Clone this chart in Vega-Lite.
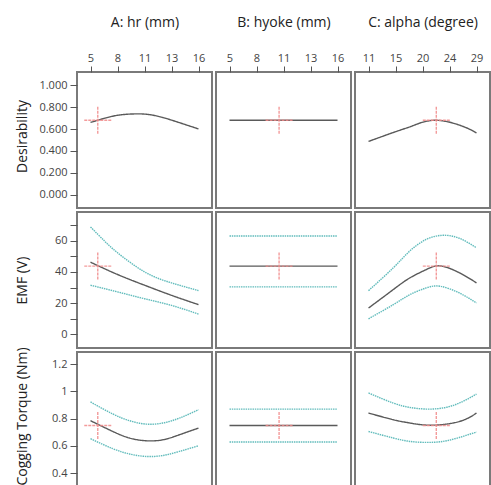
{
  "$schema": "https://vega.github.io/schema/vega-lite/v6.json",
  "background": "white",
  "padding": {"left": 13, "top": 14, "right": 0, "bottom": 0},
  "datasets": {
    "curves": [
      {"r":"D","c":"A","s":"m","x":5,"y":0.66},{"r":"D","c":"A","s":"m","x":7.27,"y":0.717},{"r":"D","c":"A","s":"m","x":8.97,"y":0.736},{"r":"D","c":"A","s":"m","x":10.67,"y":0.735},{"r":"D","c":"A","s":"m","x":12.37,"y":0.705},{"r":"D","c":"A","s":"m","x":14.06,"y":0.658},{"r":"D","c":"A","s":"m","x":16,"y":0.601},
      {"r":"D","c":"B","s":"m","x":5,"y":0.68},{"r":"D","c":"B","s":"m","x":16,"y":0.68},
      {"r":"D","c":"C","s":"m","x":11,"y":0.487},{"r":"D","c":"C","s":"m","x":15.69,"y":0.579},{"r":"D","c":"C","s":"m","x":18.43,"y":0.631},{"r":"D","c":"C","s":"m","x":22.18,"y":0.68},{"r":"D","c":"C","s":"m","x":26.69,"y":0.625},{"r":"D","c":"C","s":"m","x":29,"y":0.564},

      {"r":"E","c":"A","s":"u","x":5,"y":69.0},{"r":"E","c":"A","s":"u","x":6.43,"y":59.9},{"r":"E","c":"A","s":"u","x":7.75,"y":52.4},{"r":"E","c":"A","s":"u","x":10.5,"y":40.1},{"r":"E","c":"A","s":"u","x":13.25,"y":33.0},{"r":"E","c":"A","s":"u","x":16,"y":28.0},
      {"r":"E","c":"A","s":"m","x":5,"y":46.3},{"r":"E","c":"A","s":"m","x":7.75,"y":38.4},{"r":"E","c":"A","s":"m","x":10.5,"y":31.5},{"r":"E","c":"A","s":"m","x":13.25,"y":25.0},{"r":"E","c":"A","s":"m","x":16,"y":19.0},
      {"r":"E","c":"A","s":"l","x":5,"y":31.5},{"r":"E","c":"A","s":"l","x":7.75,"y":27.2},{"r":"E","c":"A","s":"l","x":10.5,"y":22.8},{"r":"E","c":"A","s":"l","x":13.25,"y":18.5},{"r":"E","c":"A","s":"l","x":16,"y":12.9},
      {"r":"E","c":"B","s":"u","x":5,"y":63.2},{"r":"E","c":"B","s":"u","x":16,"y":63.2},
      {"r":"E","c":"B","s":"m","x":5,"y":43.8},{"r":"E","c":"B","s":"m","x":16,"y":43.8},
      {"r":"E","c":"B","s":"l","x":5,"y":30.4},{"r":"E","c":"B","s":"l","x":16,"y":30.4},
      {"r":"E","c":"C","s":"u","x":11,"y":28.0},{"r":"E","c":"C","s":"u","x":15.13,"y":42.7},{"r":"E","c":"C","s":"u","x":17.88,"y":53.5},{"r":"E","c":"C","s":"u","x":20.64,"y":61.0},{"r":"E","c":"C","s":"u","x":23.39,"y":63.6},{"r":"E","c":"C","s":"u","x":26.14,"y":61.7},{"r":"E","c":"C","s":"u","x":29,"y":55.6},
      {"r":"E","c":"C","s":"m","x":11,"y":16.8},{"r":"E","c":"C","s":"m","x":15.13,"y":28.7},{"r":"E","c":"C","s":"m","x":17.89,"y":36.2},{"r":"E","c":"C","s":"m","x":20.64,"y":41.6},{"r":"E","c":"C","s":"m","x":23.0,"y":43.9},{"r":"E","c":"C","s":"m","x":26.14,"y":39.5},{"r":"E","c":"C","s":"m","x":29,"y":33.0},
      {"r":"E","c":"C","s":"l","x":11,"y":9.9},{"r":"E","c":"C","s":"l","x":15.13,"y":19.0},{"r":"E","c":"C","s":"l","x":17.89,"y":25.4},{"r":"E","c":"C","s":"l","x":20.64,"y":29.8},{"r":"E","c":"C","s":"l","x":23.0,"y":30.8},{"r":"E","c":"C","s":"l","x":26.14,"y":26.5},{"r":"E","c":"C","s":"l","x":29,"y":20.1},

      {"r":"T","c":"A","s":"u","x":5,"y":0.922},{"r":"T","c":"A","s":"u","x":7.27,"y":0.834},{"r":"T","c":"A","s":"u","x":8.97,"y":0.785},{"r":"T","c":"A","s":"u","x":10.67,"y":0.76},{"r":"T","c":"A","s":"u","x":12.37,"y":0.768},{"r":"T","c":"A","s":"u","x":14.06,"y":0.804},{"r":"T","c":"A","s":"u","x":16,"y":0.865},
      {"r":"T","c":"A","s":"m","x":5,"y":0.785},{"r":"T","c":"A","s":"m","x":7.27,"y":0.706},{"r":"T","c":"A","s":"m","x":8.97,"y":0.658},{"r":"T","c":"A","s":"m","x":10.67,"y":0.638},{"r":"T","c":"A","s":"m","x":12.37,"y":0.645},{"r":"T","c":"A","s":"m","x":14.06,"y":0.682},{"r":"T","c":"A","s":"m","x":16,"y":0.731},
      {"r":"T","c":"A","s":"l","x":5,"y":0.653},{"r":"T","c":"A","s":"l","x":7.27,"y":0.58},{"r":"T","c":"A","s":"l","x":8.97,"y":0.541},{"r":"T","c":"A","s":"l","x":10.67,"y":0.523},{"r":"T","c":"A","s":"l","x":12.37,"y":0.53},{"r":"T","c":"A","s":"l","x":14.06,"y":0.56},{"r":"T","c":"A","s":"l","x":16,"y":0.601},
      {"r":"T","c":"B","s":"u","x":5,"y":0.87},{"r":"T","c":"B","s":"u","x":16,"y":0.87},
      {"r":"T","c":"B","s":"m","x":5,"y":0.75},{"r":"T","c":"B","s":"m","x":16,"y":0.75},
      {"r":"T","c":"B","s":"l","x":5,"y":0.629},{"r":"T","c":"B","s":"l","x":16,"y":0.629},
      {"r":"T","c":"C","s":"u","x":11,"y":0.988},{"r":"T","c":"C","s":"u","x":15.13,"y":0.914},{"r":"T","c":"C","s":"u","x":17.89,"y":0.882},{"r":"T","c":"C","s":"u","x":20.64,"y":0.87},{"r":"T","c":"C","s":"u","x":23.39,"y":0.878},{"r":"T","c":"C","s":"u","x":26.14,"y":0.914},{"r":"T","c":"C","s":"u","x":29,"y":0.98},
      {"r":"T","c":"C","s":"m","x":11,"y":0.841},{"r":"T","c":"C","s":"m","x":15.13,"y":0.792},{"r":"T","c":"C","s":"m","x":17.89,"y":0.768},{"r":"T","c":"C","s":"m","x":21.5,"y":0.752},{"r":"T","c":"C","s":"m","x":26.14,"y":0.779},{"r":"T","c":"C","s":"m","x":29,"y":0.841},
      {"r":"T","c":"C","s":"l","x":11,"y":0.706},{"r":"T","c":"C","s":"l","x":15.13,"y":0.658},{"r":"T","c":"C","s":"l","x":17.89,"y":0.633},{"r":"T","c":"C","s":"l","x":20.64,"y":0.626},{"r":"T","c":"C","s":"l","x":23.39,"y":0.633},{"r":"T","c":"C","s":"l","x":26.14,"y":0.662},{"r":"T","c":"C","s":"l","x":29,"y":0.702}
    ],
    "opt": [
      {"r":"D","c":"A","x":5.74,"y":0.68},{"r":"D","c":"B","x":10.05,"y":0.68},{"r":"D","c":"C","x":22.3,"y":0.68},
      {"r":"E","c":"A","x":5.74,"y":43.8},{"r":"E","c":"B","x":10.05,"y":43.8},{"r":"E","c":"C","x":22.3,"y":43.8},
      {"r":"T","c":"A","x":5.74,"y":0.75},{"r":"T","c":"B","x":10.05,"y":0.75},{"r":"T","c":"C","x":22.3,"y":0.75}
    ]
  },
  "columns": 3,
  "spacing": 4,
  "bounds": "flush",
  "concat": [
    {"width":135,"height":136,
     "encoding":{
       "x":{"field":"x","type":"quantitative","scale":{"domain":[3.625,17.375],"nice":false,"zero":false},
            "axis":{"orient":"top","title":"A: hr (mm)","values":[5,7.75,10.5,13.25,16],"labelExpr":"datum.value==7.75?'8':datum.value==10.5?'11':datum.value==13.25?'13':format(datum.value,'d')","titlePadding":23,"tickSize":6,"labelPadding":3}},
       "y":{"field":"y","type":"quantitative","scale":{"domain":[-0.12,1.12],"nice":false,"zero":false},
            "axis":{"title":"Desirability","titleY":64,"values":[0,0.2,0.4,0.6,0.8,1],"format":".3f","minExtent":40,"maxExtent":40,"titlePadding":8,"tickSize":7,"labelPadding":3}}},
     "layer":[
       {"data":{"name":"curves"},"transform":[{"filter":"datum.r=='D' && datum.c=='A'"}],"mark":{"type":"line","strokeWidth":1.4,"interpolate":"natural"},
        "encoding":{"color":{"field":"s","type":"nominal","scale":{"domain":["m","u","l"],"range":["#5a5a5a","#62bcbc","#62bcbc"]},"legend":null},
                    "strokeDash":{"field":"s","type":"nominal","scale":{"domain":["m","u","l"],"range":[[1,0],[1.5,0.8],[1.5,0.8]]},"legend":null}}},
       {"data":{"name":"opt"},"transform":[{"filter":"datum.r=='D' && datum.c=='A'"}],"mark":{"type":"point","shape":"M0,-1V1M-1,0H1","size":729,"filled":false,"color":"#f28a8a","strokeWidth":1.4,"strokeDash":[3,1],"opacity":0.85},"encoding":{}}
     ]},
    {"width":135,"height":136,
     "encoding":{
       "x":{"field":"x","type":"quantitative","scale":{"domain":[3.625,17.375],"nice":false,"zero":false},
            "axis":{"orient":"top","title":"B: hyoke (mm)","values":[5,7.75,10.5,13.25,16],"labelExpr":"datum.value==7.75?'8':datum.value==10.5?'11':datum.value==13.25?'13':format(datum.value,'d')","titlePadding":23,"tickSize":6,"labelPadding":3}},
       "y":{"field":"y","type":"quantitative","scale":{"domain":[-0.12,1.12],"nice":false,"zero":false},"axis":null}},
     "layer":[
       {"data":{"name":"curves"},"transform":[{"filter":"datum.r=='D' && datum.c=='B'"}],"mark":{"type":"line","strokeWidth":1.4,"interpolate":"natural"},
        "encoding":{"color":{"field":"s","type":"nominal","scale":{"domain":["m","u","l"],"range":["#5a5a5a","#62bcbc","#62bcbc"]},"legend":null},
                    "strokeDash":{"field":"s","type":"nominal","scale":{"domain":["m","u","l"],"range":[[1,0],[1.5,0.8],[1.5,0.8]]},"legend":null}}},
       {"data":{"name":"opt"},"transform":[{"filter":"datum.r=='D' && datum.c=='B'"}],"mark":{"type":"point","shape":"M0,-1V1M-1,0H1","size":729,"filled":false,"color":"#f28a8a","strokeWidth":1.4,"strokeDash":[3,1],"opacity":0.85},"encoding":{}}
     ]},
    {"width":135,"height":136,
     "encoding":{
       "x":{"field":"x","type":"quantitative","scale":{"domain":[8.75,31.25],"nice":false,"zero":false},
            "axis":{"orient":"top","title":"C: alpha (degree)","values":[11,15.5,20,24.5,29],"labelExpr":"datum.value==15.5?'15':datum.value==24.5?'24':format(datum.value,'d')","titlePadding":23,"tickSize":6,"labelPadding":3}},
       "y":{"field":"y","type":"quantitative","scale":{"domain":[-0.12,1.12],"nice":false,"zero":false},"axis":null}},
     "layer":[
       {"data":{"name":"curves"},"transform":[{"filter":"datum.r=='D' && datum.c=='C'"}],"mark":{"type":"line","strokeWidth":1.4,"interpolate":"natural"},
        "encoding":{"color":{"field":"s","type":"nominal","scale":{"domain":["m","u","l"],"range":["#5a5a5a","#62bcbc","#62bcbc"]},"legend":null},
                    "strokeDash":{"field":"s","type":"nominal","scale":{"domain":["m","u","l"],"range":[[1,0],[1.5,0.8],[1.5,0.8]]},"legend":null}}},
       {"data":{"name":"opt"},"transform":[{"filter":"datum.r=='D' && datum.c=='C'"}],"mark":{"type":"point","shape":"M0,-1V1M-1,0H1","size":729,"filled":false,"color":"#f28a8a","strokeWidth":1.4,"strokeDash":[3,1],"opacity":0.85},"encoding":{}}
     ]},

    {"width":135,"height":136,
     "encoding":{
       "x":{"field":"x","type":"quantitative","scale":{"domain":[3.625,17.375],"nice":false,"zero":false},"axis":null},
       "y":{"field":"y","type":"quantitative","scale":{"domain":[-8.9,78.6],"nice":false,"zero":false},
            "axis":{"title":"EMF (V)","values":[0,10,20,30,40,50,60,70],"format":"d","labelExpr":"datum.value % 20 == 0 ? datum.label : ''","minExtent":40,"maxExtent":40,"titlePadding":8,"tickSize":7,"labelPadding":3}}},
     "layer":[
       {"data":{"name":"curves"},"transform":[{"filter":"datum.r=='E' && datum.c=='A'"}],"mark":{"type":"line","strokeWidth":1.4,"interpolate":"natural"},
        "encoding":{"color":{"field":"s","type":"nominal","scale":{"domain":["m","u","l"],"range":["#5a5a5a","#62bcbc","#62bcbc"]},"legend":null},
                    "strokeDash":{"field":"s","type":"nominal","scale":{"domain":["m","u","l"],"range":[[1,0],[1.5,0.8],[1.5,0.8]]},"legend":null}}},
       {"data":{"name":"opt"},"transform":[{"filter":"datum.r=='E' && datum.c=='A'"}],"mark":{"type":"point","shape":"M0,-1V1M-1,0H1","size":729,"filled":false,"color":"#f28a8a","strokeWidth":1.4,"strokeDash":[3,1],"opacity":0.85},"encoding":{}}
     ]},
    {"width":135,"height":136,
     "encoding":{
       "x":{"field":"x","type":"quantitative","scale":{"domain":[3.625,17.375],"nice":false,"zero":false},"axis":null},
       "y":{"field":"y","type":"quantitative","scale":{"domain":[-8.9,78.6],"nice":false,"zero":false},"axis":null}},
     "layer":[
       {"data":{"name":"curves"},"transform":[{"filter":"datum.r=='E' && datum.c=='B'"}],"mark":{"type":"line","strokeWidth":1.4,"interpolate":"natural"},
        "encoding":{"color":{"field":"s","type":"nominal","scale":{"domain":["m","u","l"],"range":["#5a5a5a","#62bcbc","#62bcbc"]},"legend":null},
                    "strokeDash":{"field":"s","type":"nominal","scale":{"domain":["m","u","l"],"range":[[1,0],[1.5,0.8],[1.5,0.8]]},"legend":null}}},
       {"data":{"name":"opt"},"transform":[{"filter":"datum.r=='E' && datum.c=='B'"}],"mark":{"type":"point","shape":"M0,-1V1M-1,0H1","size":729,"filled":false,"color":"#f28a8a","strokeWidth":1.4,"strokeDash":[3,1],"opacity":0.85},"encoding":{}}
     ]},
    {"width":135,"height":136,
     "encoding":{
       "x":{"field":"x","type":"quantitative","scale":{"domain":[8.75,31.25],"nice":false,"zero":false},"axis":null},
       "y":{"field":"y","type":"quantitative","scale":{"domain":[-8.9,78.6],"nice":false,"zero":false},"axis":null}},
     "layer":[
       {"data":{"name":"curves"},"transform":[{"filter":"datum.r=='E' && datum.c=='C'"}],"mark":{"type":"line","strokeWidth":1.4,"interpolate":"natural"},
        "encoding":{"color":{"field":"s","type":"nominal","scale":{"domain":["m","u","l"],"range":["#5a5a5a","#62bcbc","#62bcbc"]},"legend":null},
                    "strokeDash":{"field":"s","type":"nominal","scale":{"domain":["m","u","l"],"range":[[1,0],[1.5,0.8],[1.5,0.8]]},"legend":null}}},
       {"data":{"name":"opt"},"transform":[{"filter":"datum.r=='E' && datum.c=='C'"}],"mark":{"type":"point","shape":"M0,-1V1M-1,0H1","size":729,"filled":false,"color":"#f28a8a","strokeWidth":1.4,"strokeDash":[3,1],"opacity":0.85},"encoding":{}}
     ]},

    {"width":135,"height":136,
     "encoding":{
       "x":{"field":"x","type":"quantitative","scale":{"domain":[3.625,17.375],"nice":false,"zero":false},"axis":null},
       "y":{"field":"y","type":"quantitative","scale":{"domain":[0.292,1.288],"nice":false,"zero":false},
            "axis":{"title":"Cogging Torque (Nm)","titleY":64,"values":[0.4,0.6,0.8,1,1.2],"format":"~g","minExtent":40,"maxExtent":40,"titlePadding":8,"tickSize":7,"labelPadding":3}}},
     "layer":[
       {"data":{"name":"curves"},"transform":[{"filter":"datum.r=='T' && datum.c=='A'"}],"mark":{"type":"line","strokeWidth":1.4,"interpolate":"natural"},
        "encoding":{"color":{"field":"s","type":"nominal","scale":{"domain":["m","u","l"],"range":["#5a5a5a","#62bcbc","#62bcbc"]},"legend":null},
                    "strokeDash":{"field":"s","type":"nominal","scale":{"domain":["m","u","l"],"range":[[1,0],[1.5,0.8],[1.5,0.8]]},"legend":null}}},
       {"data":{"name":"opt"},"transform":[{"filter":"datum.r=='T' && datum.c=='A'"}],"mark":{"type":"point","shape":"M0,-1V1M-1,0H1","size":729,"filled":false,"color":"#f28a8a","strokeWidth":1.4,"strokeDash":[3,1],"opacity":0.85},"encoding":{}}
     ]},
    {"width":135,"height":136,
     "encoding":{
       "x":{"field":"x","type":"quantitative","scale":{"domain":[3.625,17.375],"nice":false,"zero":false},"axis":null},
       "y":{"field":"y","type":"quantitative","scale":{"domain":[0.292,1.288],"nice":false,"zero":false},"axis":null}},
     "layer":[
       {"data":{"name":"curves"},"transform":[{"filter":"datum.r=='T' && datum.c=='B'"}],"mark":{"type":"line","strokeWidth":1.4,"interpolate":"natural"},
        "encoding":{"color":{"field":"s","type":"nominal","scale":{"domain":["m","u","l"],"range":["#5a5a5a","#62bcbc","#62bcbc"]},"legend":null},
                    "strokeDash":{"field":"s","type":"nominal","scale":{"domain":["m","u","l"],"range":[[1,0],[1.5,0.8],[1.5,0.8]]},"legend":null}}},
       {"data":{"name":"opt"},"transform":[{"filter":"datum.r=='T' && datum.c=='B'"}],"mark":{"type":"point","shape":"M0,-1V1M-1,0H1","size":729,"filled":false,"color":"#f28a8a","strokeWidth":1.4,"strokeDash":[3,1],"opacity":0.85},"encoding":{}}
     ]},
    {"width":135,"height":136,
     "encoding":{
       "x":{"field":"x","type":"quantitative","scale":{"domain":[8.75,31.25],"nice":false,"zero":false},"axis":null},
       "y":{"field":"y","type":"quantitative","scale":{"domain":[0.292,1.288],"nice":false,"zero":false},"axis":null}},
     "layer":[
       {"data":{"name":"curves"},"transform":[{"filter":"datum.r=='T' && datum.c=='C'"}],"mark":{"type":"line","strokeWidth":1.4,"interpolate":"natural"},
        "encoding":{"color":{"field":"s","type":"nominal","scale":{"domain":["m","u","l"],"range":["#5a5a5a","#62bcbc","#62bcbc"]},"legend":null},
                    "strokeDash":{"field":"s","type":"nominal","scale":{"domain":["m","u","l"],"range":[[1,0],[1.5,0.8],[1.5,0.8]]},"legend":null}}},
       {"data":{"name":"opt"},"transform":[{"filter":"datum.r=='T' && datum.c=='C'"}],"mark":{"type":"point","shape":"M0,-1V1M-1,0H1","size":729,"filled":false,"color":"#f28a8a","strokeWidth":1.4,"strokeDash":[3,1],"opacity":0.85},"encoding":{}}
     ]}
  ],
  "config": {
    "font": "Open Sans",
    "view": {"stroke": "#7a7a7a", "strokeWidth": 2},
    "axis": {"labelFont":"Open Sans","titleFont":"Open Sans","labelFontSize":11,"titleFontSize":14,"titleFontWeight":"normal","labelColor":"#444444","titleColor":"#222222","tickColor":"#555555","domain":false,"grid":false}
  }
}
